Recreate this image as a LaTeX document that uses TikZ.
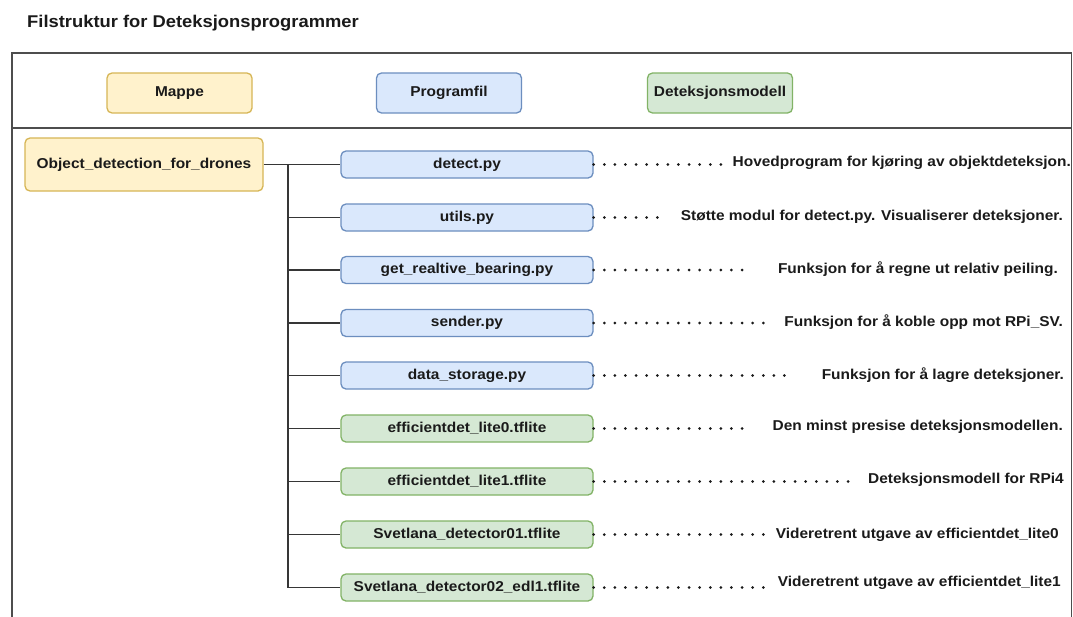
\documentclass[tikz,border=0pt]{standalone}
\usepackage{fontspec}
\setmainfont[FakeStretch=1.08]{Liberation Sans}
\begin{document}
\definecolor{ylwfill}{HTML}{FFF2CC}
\definecolor{ylwdraw}{HTML}{D6B656}
\definecolor{bluefill}{HTML}{DAE8FC}
\definecolor{bluedraw}{HTML}{6C8EBF}
\definecolor{grnfill}{HTML}{D5E8D4}
\definecolor{grndraw}{HTML}{82B366}
\definecolor{ink}{HTML}{1A1A1A}
\definecolor{framecol}{HTML}{4D4D4D}
\begin{tikzpicture}[x=1pt,y=-1pt,
  txt/.style={font=\bfseries\fontsize{14.3}{16}\selectfont, text=ink},
  box/.style={txt, rounded corners=5pt, line width=1.3pt, inner sep=0pt, anchor=center},
  folder/.style={box, fill=ylwfill, draw=ylwdraw},
  prog/.style={box, fill=bluefill, draw=bluedraw},
  model/.style={box, fill=grnfill, draw=grndraw},
  filebox/.style={minimum width=252pt, minimum height=27pt},
  legendbox/.style={minimum width=145pt, minimum height=40pt},
  desc/.style={txt, anchor=east, inner sep=0pt},
  tree/.style={draw=framecol!70!black, line width=1.9pt},
  dots/.style={draw=ink, line width=3pt, line cap=round, dash pattern=on 0pt off 10.6pt}
]
\useasboundingbox (0,0) rectangle (1073,616);
\fill[white] (0,0) rectangle (1073,616);

% title
\node[txt, font=\bfseries\fontsize{17}{20}\selectfont, anchor=west, inner sep=0pt] (title) at (27,23) {Filstruktur for Deteksjonsprogrammer};

% outer frame with header band
\draw[framecol, line width=1.8pt] (12,630) -- (12,53) -- (1071.5,53) -- (1071.5,630);
\draw[framecol, line width=1.8pt] (12,128) -- (1071.5,128);

% legend
\node[folder, legendbox] (lgfolder) at (179.5,93) {Mappe};
\node[prog, legendbox] (lgprog) at (449,93) {Programfil};
\node[model, legendbox] (lgmodel) at (720,93) {Deteksjonsmodell};

% root folder
\node[folder, minimum width=238pt, minimum height=53pt] (root) at (144,164.5) {Object\_detection\_for\_drones};

% files
\node[prog, filebox]  (f1) at (467,164.5) {detect.py};
\node[prog, filebox]  (f2) at (467,217.5) {utils.py};
\node[prog, filebox]  (f3) at (467,270)   {get\_realtive\_bearing.py};
\node[prog, filebox]  (f4) at (467,323)   {sender.py};
\node[prog, filebox]  (f5) at (467,375.5) {data\_storage.py};
\node[model, filebox] (f6) at (467,428.5) {efficientdet\_lite0.tflite};
\node[model, filebox] (f7) at (467,481.5) {efficientdet\_lite1.tflite};
\node[model, filebox] (f8) at (467,534.5) {Svetlana\_detector01.tflite};
\node[model, filebox] (f9) at (467,587.5) {Svetlana\_detector02\_edl1.tflite};

% tree connectors
\coordinate (trunk) at (288,164.5);
\draw[tree] (root.east) -- (f1.west);
\draw[tree] (trunk) |- (f9.west);
\foreach \f in {f2,f3,f4,f5,f6,f7,f8}
  \draw[tree] (trunk |- \f.west) -- (\f.west);

% descriptions
\node[desc] (d1) at (1071,163) {Hovedprogram for kjøring av objektdeteksjon.};
\node[desc] (d2) at (1063,217) {Støtte modul for detect.py. Visualiserer deteksjoner.};
\node[desc] (d3) at (1058,269) {Funksjon for å regne ut relativ peiling.};
\node[desc] (d4) at (1063,322) {Funksjon for å koble opp mot RPi\_SV.};
\node[desc] (d5) at (1064,375) {Funksjon for å lagre deteksjoner.};
\node[desc] (d6) at (1063,427) {Den minst presise deteksjonsmodellen.};
\node[desc] (d7) at (1064,480) {Deteksjonsmodell for RPi4};
\node[desc] (d8) at (1059,535) {Videretrent utgave av efficientdet\_lite0};
\node[desc] (d9) at (1061,583) {Videretrent utgave av efficientdet\_lite1};

% dotted leaders
\coordinate (e1) at (727,164.5);
\coordinate (e2) at (665,217.5);
\coordinate (e3) at (745,270);
\coordinate (e4) at (767,323);
\coordinate (e5) at (794,375.5);
\coordinate (e6) at (746,428.5);
\coordinate (e7) at (851,481.5);
\coordinate (e8) at (766,534.5);
\coordinate (e9) at (764,587.5);
\foreach \i in {1,...,9}
  \draw[dots] (f\i.east) -- (e\i);
\end{tikzpicture}
\end{document}
